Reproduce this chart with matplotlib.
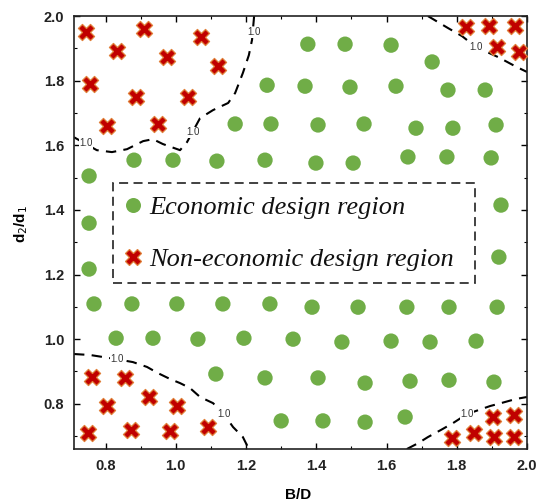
import matplotlib
matplotlib.use("Agg")
import matplotlib.pyplot as plt
from matplotlib.lines import Line2D
from matplotlib.ticker import MultipleLocator

# ---- data ----
econ_x = [1.376, 1.482, 1.613, 1.730,
          1.260, 1.368, 1.496, 1.627, 1.775, 1.881,
          1.169, 1.271, 1.405, 1.536, 1.684, 1.789, 1.912,
          0.881, 0.992, 1.117, 1.254, 1.399, 1.505, 1.661, 1.772, 1.898,
          0.753, 0.753, 0.753,
          1.926, 1.920,
          0.767, 0.875, 1.003, 1.134, 1.268, 1.388, 1.519, 1.658, 1.778, 1.915,
          0.830, 0.935, 1.063, 1.194, 1.334, 1.473, 1.613, 1.724, 1.855,
          1.114, 1.254, 1.405, 1.539, 1.667, 1.778, 1.906,
          1.300, 1.419, 1.539, 1.653]
econ_y = [1.913, 1.913, 1.910, 1.858,
          1.786, 1.783, 1.780, 1.783, 1.771, 1.771,
          1.666, 1.666, 1.663, 1.666, 1.653, 1.653, 1.663,
          1.554, 1.554, 1.551, 1.554, 1.545, 1.545, 1.564, 1.564, 1.561,
          1.505, 1.359, 1.217,
          1.415, 1.254,
          1.109, 1.109, 1.109, 1.109, 1.109, 1.099, 1.099, 1.099, 1.099, 1.099,
          1.003, 1.003, 1.000, 1.003, 1.000, 0.991, 0.994, 0.991, 0.994,
          0.892, 0.880, 0.880, 0.864, 0.870, 0.873, 0.867,
          0.747, 0.747, 0.743, 0.759]

nonecon_x = [0.744, 0.909, 1.072, 0.832, 0.975, 1.120, 0.756, 0.887, 1.035, 0.804, 0.949,
             1.826, 1.892, 1.966, 1.915, 1.977,
             0.761, 0.855, 0.804, 0.924, 1.003, 0.750, 0.872, 0.983, 1.092,
             1.787, 1.849, 1.903, 1.963, 1.906, 1.963]
nonecon_y = [1.950, 1.960, 1.935, 1.892, 1.873, 1.845, 1.790, 1.749, 1.749, 1.660, 1.666,
             1.966, 1.969, 1.969, 1.904, 1.889,
             0.883, 0.880, 0.793, 0.821, 0.793, 0.709, 0.719, 0.716, 0.728,
             0.694, 0.709, 0.759, 0.765, 0.697, 0.697]

# contour lines (level 1.0)
cl_tl_x = [0.710, 0.775, 0.818, 0.861, 0.907, 0.935, 0.963, 1.012, 1.032, 1.069, 1.106,
           1.149, 1.169, 1.191, 1.208, 1.217, 1.223]
cl_tl_y = [1.625, 1.585, 1.579, 1.588, 1.613, 1.619, 1.604, 1.585, 1.610, 1.684, 1.709,
           1.731, 1.762, 1.824, 1.879, 1.926, 2.000]
cl_tr_x = [1.718, 1.775, 1.815, 1.855, 1.918, 1.966, 2.000]
cl_tr_y = [2.000, 1.963, 1.938, 1.904, 1.873, 1.845, 1.827]
cl_bl_x = [0.710, 0.756, 0.832, 0.878, 0.918, 0.949, 0.983, 1.012, 1.040, 1.069, 1.106,
           1.137, 1.163, 1.191, 1.208]
cl_bl_y = [0.954, 0.951, 0.938, 0.929, 0.914, 0.895, 0.877, 0.864, 0.849, 0.821, 0.802,
           0.768, 0.728, 0.697, 0.660]
cl_br_x = [1.658, 1.690, 1.718, 1.755, 1.789, 1.829, 1.895, 1.926, 1.969, 2.000]
cl_br_y = [0.660, 0.678, 0.697, 0.719, 0.740, 0.768, 0.793, 0.802, 0.815, 0.821]

contour_label = "1.0"
label_x = [0.744, 1.049, 1.223, 1.855, 0.832, 1.137, 1.829]
label_y = [1.607, 1.641, 1.950, 1.904, 0.938, 0.768, 0.768]

x_ticks = [0.8, 1.0, 1.2, 1.4, 1.6, 1.8, 2.0]
y_ticks = [0.8, 1.0, 1.2, 1.4, 1.6, 1.8, 2.0]
legend_labels = ["Economic design region", "Non-economic design region"]

# ---- figure ----
fig = plt.figure(figsize=(5.38, 5.04), dpi=100)
ax = fig.add_axes([0.1375, 0.1091, 0.842, 0.859])

green = "#70AD47"
red = "#C00000"
orange_edge = "#E0803A"

dash = (0, (5, 3.5))
for xs, ys in [(cl_tl_x, cl_tl_y), (cl_tr_x, cl_tr_y), (cl_bl_x, cl_bl_y), (cl_br_x, cl_br_y)]:
    ax.plot(xs, ys, color="black", lw=1.5, linestyle=dash, zorder=2)

for lx, ly in zip(label_x, label_y):
    ax.text(lx, ly, contour_label, fontsize=7, color="#333333", ha="center", va="center",
            family="Liberation Sans",
            bbox=dict(boxstyle="square,pad=0.05", fc="white", ec="none"), zorder=3)

ax.scatter(econ_x, econ_y, s=122, c=green, edgecolors="none", zorder=4)
ax.scatter(nonecon_x, nonecon_y, s=135, marker="X", c=red, edgecolors=orange_edge,
           linewidths=0.9, zorder=4)

ax.set_xlim(0.71, 2.0)
ax.set_ylim(0.66, 2.0)
ax.set_xticks(x_ticks)
ax.set_yticks(y_ticks)
ax.xaxis.set_minor_locator(MultipleLocator(0.1))
ax.yaxis.set_minor_locator(MultipleLocator(0.1))
ax.tick_params(which="major", direction="in", length=4, width=1.0, top=True, right=True,
               labelsize=10.5, pad=7)
ax.tick_params(which="minor", direction="in", length=2, width=0.8, top=True, right=True)
for lab in ax.get_xticklabels() + ax.get_yticklabels():
    lab.set_fontweight("bold")
    lab.set_family("Liberation Sans")
    lab.set_color("#222222")
for sp in ax.spines.values():
    sp.set_linewidth(1.2)
    sp.set_color("#222222")

ax.set_xlabel("B/D", fontsize=11, fontweight="bold", family="Liberation Sans")
ax.set_ylabel(r"d$_2$/d$_1$", fontsize=11, fontweight="bold", family="Liberation Sans")
ax.xaxis.set_label_coords(0.495, -0.09)
ax.yaxis.set_label_coords(-0.097, 0.52)

handles = [
    Line2D([], [], linestyle="none", marker="o", markersize=10.8, markerfacecolor=green,
           markeredgecolor="none"),
    Line2D([], [], linestyle="none", marker="X", markersize=11, markerfacecolor=red,
           markeredgecolor=orange_edge, markeredgewidth=0.9),
]
leg = ax.legend(handles, legend_labels, loc="upper left",
                bbox_to_anchor=(0.086, 0.383, 0.799, 0.231), mode="expand",
                borderaxespad=0, fancybox=False, frameon=True,
                prop=dict(family="Liberation Serif", style="italic", size=19),
                handlelength=0.6, handletextpad=0.3, labelspacing=1.08,
                borderpad=0.46)
frame = leg.get_frame()
frame.set_edgecolor("black")
frame.set_linewidth(1.3)
frame.set_linestyle((0, (5, 3)))
frame.set_facecolor("none")
for t in leg.get_texts():
    t.set_color("#111111")

fig.savefig("out.png", dpi=100)
